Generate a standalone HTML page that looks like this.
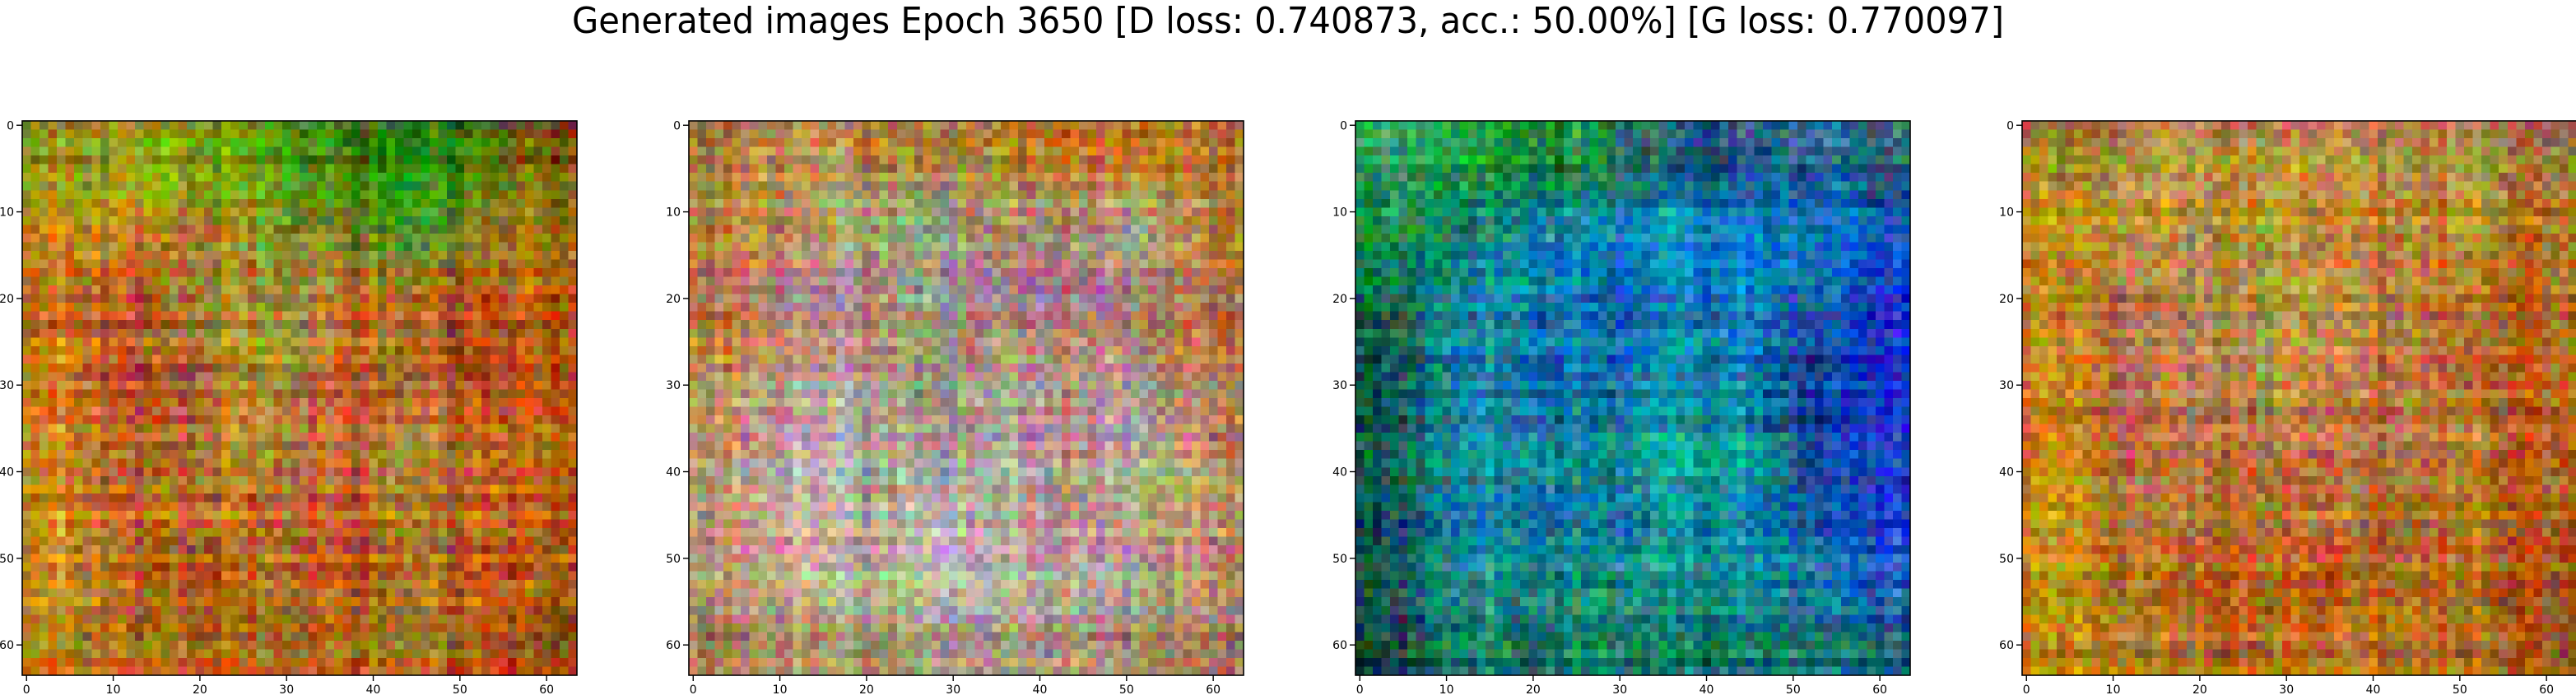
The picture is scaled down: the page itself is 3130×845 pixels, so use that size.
<!DOCTYPE html>
<html><head><meta charset="utf-8">
<style>
html,body{margin:0;padding:0;background:#fff;}
body{width:3130px;height:845px;position:relative;overflow:hidden;font-family:"DejaVu Sans","Liberation Sans",sans-serif;}
canvas{position:absolute;image-rendering:pixelated;image-rendering:crisp-edges;}
svg{position:absolute;left:0;top:0;}
</style></head>
<body>
<div id="wrap"></div>
<svg id="ax" width="3130" height="845">
<text x="1565" y="40" text-anchor="middle" font-size="44" textLength="1740" lengthAdjust="spacingAndGlyphs" fill="#000">Generated images Epoch 3650 [D loss: 0.740873, acc.: 50.00%] [G loss: 0.770097]</text>
</svg>
<script>
const panelLefts = [27, 837, 1647, 2457];
const panelTop = 147;
const panelSize = 674;
const gridN = 64;
const tickValues = [0, 10, 20, 30, 40, 50, 60];
const tickLabels = ["0", "10", "20", "30", "40", "50", "60"];
const panel1Colors = [
"8a8a20 90a020 70a010 509010 308010 207010 408010 705020",
"c09018 c89020 b08020 909020 709020 509010 809020 a08018",
"c07020 b85020 a08030 a09030 b08030 b86020 b86018 b86018",
"c88020 b85030 a87030 a89030 b87030 b86020 a85018 b86018",
"c88020 a85020 b87030 b88030 b86030 b88030 b87020 b86018",
"c89020 b86020 b88020 b86020 b87030 a87020 b87020 b86018",
"c89020 b86018 b85018 b86018 b85018 b86018 b86018 b05018",
"b88018 b07018 b07018 b06018 b07018 b07018 b06018 a05018"];
const panel2Colors = [
"a89040 b8a060 b89050 b89040 b89040 c88030 c88030 a88040",
"b89030 b89060 a8a080 98a080 b89070 a89070 b8a090 b88030",
"b88040 b88090 b89080 b8a080 b88090 b88080 b88070 b87040",
"b89050 b89090 b89090 989070 b89090 b89080 b88090 b87050",
"b89060 b8a0b0 b8a0a0 a89080 b8a0a0 b89090 b8a0a0 b88060",
"b8a070 c8b0b0 b8a0a0 c8b8b0 b8a0a0 b89090 b8a090 b89070",
"b8a070 c8b8a0 b8b0a0 c8c8b8 c8b8b8 b8b0b0 b8a0a0 b89070",
"a88050 b89070 a89070 b89080 b89080 b89070 a88070 a87060"];
const panel3Colors = [
"30a060 10a040 10903a 208050 105078 205080 2060a0 207070",
"209040 107058 1080a0 1080b0 1098c0 1070c0 1070c0 1060b0",
"107048 1080a0 1090b8 1060b0 1070c0 1080c0 1060b0 1040c0",
"105848 1080a0 1070b0 1060b0 1090b0 1070b0 103090 1040c0",
"105848 1080a0 108098 107888 109898 109888 103090 1040c0",
"105848 108098 108098 107898 109898 108898 105098 1050c0",
"105848 108890 108890 108880 108890 108898 1070b0 1060c0",
"104838 107868 107868 107868 107868 107868 107078 107078"];
const panel4Colors = [
"a88030 b88040 b89040 b89040 b89040 b88040 b88040 a87040",
"c89020 c89030 b89040 b89030 b88030 b88030 b88030 b87020",
"c07020 b86048 a88048 a89048 b88048 b87038 b86020 b86018",
"c88020 b86048 b88058 a89048 b88048 b87038 a85020 b86018",
"c88020 b86038 b88048 b88048 b87048 b88048 b87030 b86018",
"c89020 b87038 b88038 b87038 b88038 a87030 b87020 b86018",
"c89020 b87020 b86020 b87020 b86020 b87020 b86020 b05018",
"b88018 b07018 b07018 b06018 b07018 b07018 b06018 a05018"];
const allPanels = [panel1Colors, panel2Colors, panel3Colors, panel4Colors];

function parseGrid(rows){return rows.map(r=>r.split(' ').map(h=>[parseInt(h.slice(0,2),16),parseInt(h.slice(2,4),16),parseInt(h.slice(4,6),16)]));}
function hash(a,b,c){let h=(a*374761393+b*668265263+c*2147483647)|0;h=(h^(h>>>13))*1274126177|0;h=h^(h>>>16);return ((h>>>0)%1000)/1000;}
function sample(g,x,y){
  const fx=Math.min(Math.max(x/gridN*8-0.5,0),7),fy=Math.min(Math.max(y/gridN*8-0.5,0),7);
  const x0=Math.floor(fx),y0=Math.floor(fy),x1=Math.min(x0+1,7),y1=Math.min(y0+1,7),tx=fx-x0,ty=fy-y0;
  const out=[];
  for(let c=0;c<3;c++){out.push((g[y0][x0][c]*(1-tx)+g[y0][x1][c]*tx)*(1-ty)+(g[y1][x0][c]*(1-tx)+g[y1][x1][c]*tx)*ty);}
  return out;
}
const wrap=document.getElementById('wrap');
const ax=document.getElementById('ax');
const NS='http://www.w3.org/2000/svg';
const px=v=>(v+0.5)*panelSize/gridN;
allPanels.forEach((rows,p)=>{
  const g=parseGrid(rows);
  const cv=document.createElement('canvas');
  
  
  cv.width=gridN;cv.height=gridN;
  cv.style.left=panelLefts[p]+'px';cv.style.top=panelTop+'px';
  cv.style.width=panelSize+'px';cv.style.height=panelSize+'px';
  const ctx=cv.getContext('2d');const im=ctx.createImageData(gridN,gridN);
  for(let y=0;y<gridN;y++)for(let x=0;x<gridN;x++){
    const base=sample(g,x,y);
    const i=(y*gridN+x)*4;
    for(let c=0;c<3;c++){
      const rowS=(hash(y,p,7+c)-0.5)*70,colS=(hash(x,p,13+c)-0.5)*70;
      const n=(hash(x,y,p*3+c)-0.5)*80;
      im.data[i+c]=Math.max(0,Math.min(255,base[c]+n+rowS*0.6+colS*0.6));
    }
    im.data[i+3]=255;
  }
  ctx.putImageData(im,0,0);
  wrap.appendChild(cv);
  const L=panelLefts[p],T=panelTop,S=panelSize;
  const r=document.createElementNS(NS,'rect');
  
  
  r.setAttribute('x',L);r.setAttribute('y',T);r.setAttribute('width',S);r.setAttribute('height',S);
  r.setAttribute('fill','none');r.setAttribute('stroke','#000');r.setAttribute('stroke-width','1.6');
  ax.appendChild(r);
  tickValues.forEach((v,k)=>{
    const xx=L+px(v),yy=T+px(v);
    const tx=document.createElementNS(NS,'line');
    
    
    tx.setAttribute('x1',xx);tx.setAttribute('x2',xx);tx.setAttribute('y1',T+S);tx.setAttribute('y2',T+S+7);tx.setAttribute('stroke','#000');tx.setAttribute('stroke-width','1.4');
    ax.appendChild(tx);
    const lx=document.createElementNS(NS,'text');
    
    
    lx.setAttribute('x',xx);lx.setAttribute('y',T+S+22);lx.setAttribute('text-anchor','middle');lx.setAttribute('font-size','14');
    lx.textContent=tickLabels[k];ax.appendChild(lx);
    const ty=document.createElementNS(NS,'line');
    
    
    ty.setAttribute('x1',L-7);ty.setAttribute('x2',L);ty.setAttribute('y1',yy);ty.setAttribute('y2',yy);ty.setAttribute('stroke','#000');ty.setAttribute('stroke-width','1.4');
    ax.appendChild(ty);
    const ly=document.createElementNS(NS,'text');
    
    
    ly.setAttribute('x',L-10);ly.setAttribute('y',yy+5);ly.setAttribute('text-anchor','end');ly.setAttribute('font-size','14');
    ly.textContent=tickLabels[k];ax.appendChild(ly);
  });
});
</script>
</body></html>
